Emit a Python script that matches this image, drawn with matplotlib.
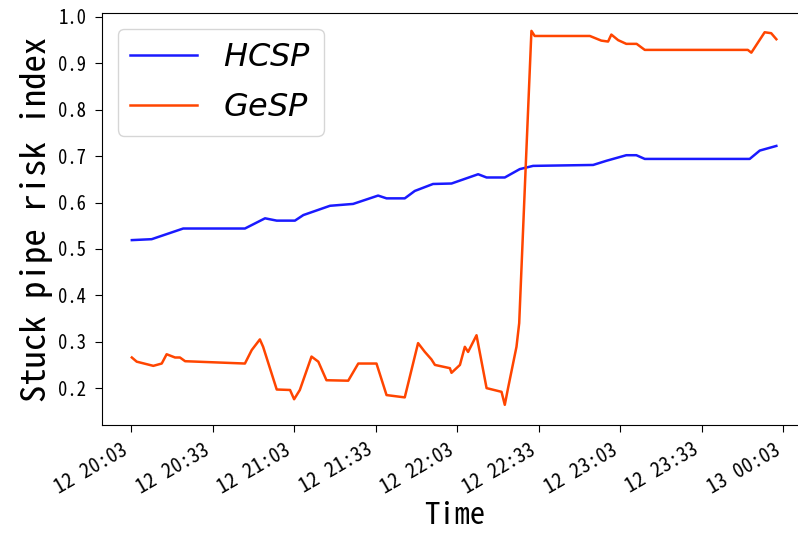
import numpy as np
import pandas as pd
import matplotlib as mpl
mpl.use('agg')
import matplotlib.pyplot as plt
import matplotlib.dates as mdates

# minutes after 12 20:03
hcsp_min = [0.3, 7.6, 19.2, 41.9, 49.3, 53.6, 60.3, 63.4, 73.2, 81.7, 90.9, 94.0,
            100.7, 104.4, 111.1, 117.9, 127.7, 130.8, 137.5, 143.0, 147.9, 170.0,
            174.9, 182.2, 185.9, 189.0, 227.6, 231.3, 237.4]
hcsp_val = [0.519, 0.521, 0.544, 0.544, 0.566, 0.561, 0.561, 0.573, 0.593, 0.597,
            0.615, 0.609, 0.609, 0.625, 0.640, 0.641, 0.661, 0.654, 0.654, 0.672,
            0.679, 0.681, 0.690, 0.702, 0.702, 0.694, 0.694, 0.712, 0.722]

gesp_min = [0.3, 2.1, 8.2, 11.3, 13.1, 16.2, 18.0, 19.9, 41.9, 44.4, 47.4, 48.6,
            53.6, 58.5, 60.0, 62.1, 66.4, 68.9, 71.9, 79.9, 83.6, 90.3, 94.0,
            100.7, 105.6, 108.1, 110.5, 111.8, 117.3, 117.9, 121.0, 122.8, 124.0,
            127.1, 130.8, 136.3, 137.5, 138.7, 141.8, 142.8, 145.0, 147.3, 148.5,
            168.8, 173.0, 175.5, 176.7, 179.2, 182.2, 186.0, 189.0, 226.9, 228.2,
            233.1, 235.5, 237.4]
gesp_val = [0.266, 0.257, 0.248, 0.253, 0.273, 0.266, 0.266, 0.258, 0.253, 0.282,
            0.305, 0.289, 0.197, 0.196, 0.176, 0.196, 0.268, 0.257, 0.217, 0.216,
            0.253, 0.253, 0.185, 0.180, 0.297, 0.278, 0.262, 0.250, 0.243, 0.233,
            0.250, 0.289, 0.278, 0.314, 0.200, 0.192, 0.164, 0.200, 0.289, 0.340,
            0.650, 0.970, 0.959, 0.959, 0.949, 0.947, 0.962, 0.950, 0.942, 0.942,
            0.929, 0.929, 0.923, 0.967, 0.965, 0.952]

start = pd.Timestamp('2021-03-12 20:03')
hcsp_t = [start + pd.Timedelta(minutes=m) for m in hcsp_min]
gesp_t = [start + pd.Timedelta(minutes=m) for m in gesp_min]

mono = ['Noto Sans Mono CJK SC', 'DejaVu Sans Mono']

fig = plt.figure(figsize=(7.98, 5.35), dpi=100)
# axes runs a bit past the right edge, the original is cropped there
ax = fig.add_axes([0.1274, 0.2056, 0.886, 0.770])

ax.plot(hcsp_t, hcsp_val, color='#1a1aff', linewidth=1.8, label='$HCSP$')
ax.plot(gesp_t, gesp_val, color='orangered', linewidth=1.8, label='$GeSP$')

ax.set_xlim(start - pd.Timedelta(minutes=10.8), start + pd.Timedelta(minutes=249.3))
ax.set_ylim(0.1205, 1.0084)
ax.set_yticks([0.2, 0.3, 0.4, 0.5, 0.6, 0.7, 0.8, 0.9, 1.0])

ax.xaxis.set_major_locator(mdates.MinuteLocator(byminute=[3, 33]))
ax.xaxis.set_major_formatter(mdates.DateFormatter('%d %H:%M'))
ax.tick_params(length=5, pad=6)
for lbl in ax.get_xticklabels():
    lbl.set_rotation(30)
    lbl.set_ha('right')
    lbl.set_family(mono)
    lbl.set_fontsize(14.5)
for lbl in ax.get_yticklabels():
    lbl.set_family(mono)
    lbl.set_fontsize(13.5)

ax.set_xlabel('Time', family=mono, fontsize=22, labelpad=3)
ax.set_ylabel('Stuck pipe risk index', family=mono, fontsize=25, labelpad=4)

ax.legend(loc='upper left', fontsize=23, labelspacing=0.6,
          handlelength=2.1, handletextpad=0.8)

plt.savefig('out.png', dpi=100)
plt.close()
